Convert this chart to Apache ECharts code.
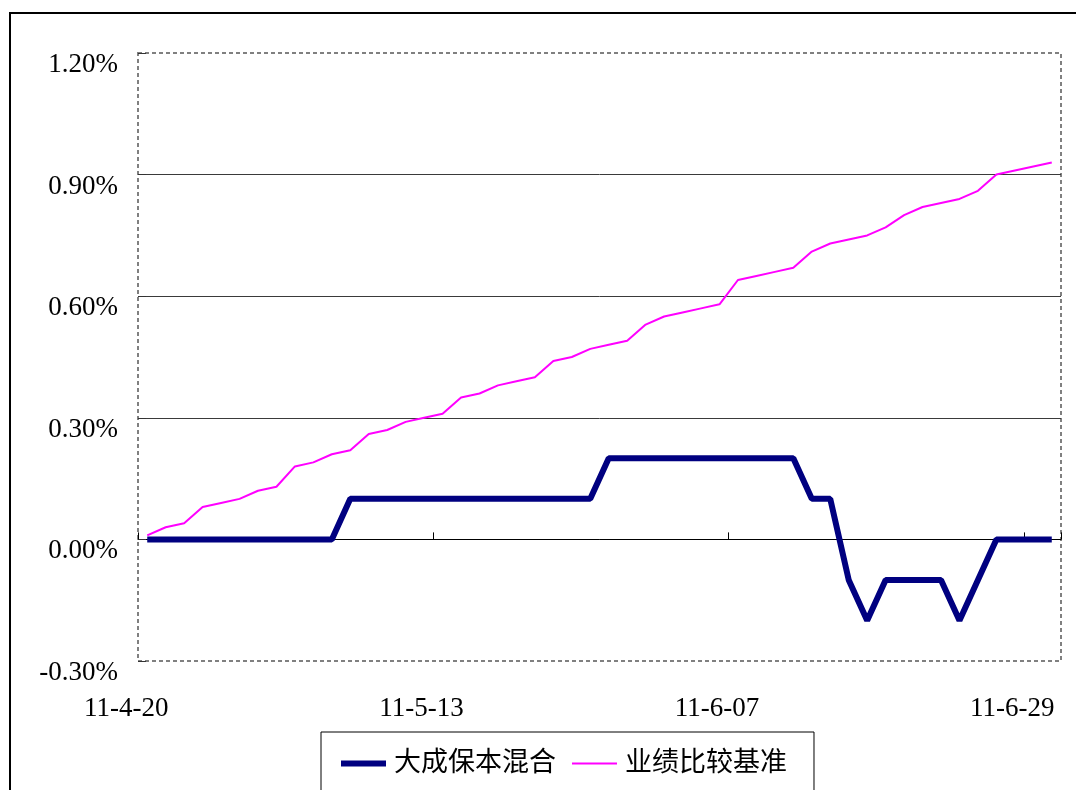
<!DOCTYPE html>
<html>
<head>
<meta charset="utf-8">
<title>大成保本混合</title>
<script src="https://cdn.jsdelivr.net/npm/echarts@6/dist/echarts.min.js"></script>
<style>
  html, body { margin: 0; padding: 0; background: #fff; }
  #chart { width: 1076px; height: 790px; }
</style>
</head>
<body>
<div id="chart"></div>
<script>
// trading days 2011-04-20 .. 2011-06-30
const dates = [
  '11-4-20', '11-4-21', '11-4-22', '11-4-25', '11-4-26', '11-4-27', '11-4-28', '11-4-29',
  '11-5-03', '11-5-04', '11-5-05', '11-5-06', '11-5-09', '11-5-10', '11-5-11', '11-5-12',
  '11-5-13', '11-5-16', '11-5-17', '11-5-18', '11-5-19', '11-5-20', '11-5-23', '11-5-24',
  '11-5-25', '11-5-26', '11-5-27', '11-5-30', '11-5-31', '11-6-01', '11-6-02', '11-6-03',
  '11-6-07', '11-6-08', '11-6-09', '11-6-10', '11-6-13', '11-6-14', '11-6-15', '11-6-16',
  '11-6-17', '11-6-20', '11-6-21', '11-6-22', '11-6-23', '11-6-24', '11-6-27', '11-6-28',
  '11-6-29', '11-6-30'
]

// values in %
const fundReturn = [
  0, 0, 0, 0, 0, 0, 0, 0, 0, 0,
  0, 0.1, 0.1, 0.1, 0.1, 0.1, 0.1, 0.1, 0.1, 0.1,
  0.1, 0.1, 0.1, 0.1, 0.1, 0.2, 0.2, 0.2, 0.2, 0.2,
  0.2, 0.2, 0.2, 0.2, 0.2, 0.2, 0.1, 0.1, -0.1, -0.2,
  -0.1, -0.1, -0.1, -0.1, -0.2, -0.1, 0, 0, 0, 0
]
const benchmark = [
  0.01, 0.03, 0.04, 0.08, 0.09, 0.10, 0.12, 0.13, 0.18, 0.19,
  0.21, 0.22, 0.26, 0.27, 0.29, 0.30, 0.31, 0.35, 0.36, 0.38,
  0.39, 0.40, 0.44, 0.45, 0.47, 0.48, 0.49, 0.53, 0.55, 0.56,
  0.57, 0.58, 0.64, 0.65, 0.66, 0.67, 0.71, 0.73, 0.74, 0.75,
  0.77, 0.80, 0.82, 0.83, 0.84, 0.86, 0.90, 0.91, 0.92, 0.93
]

const seriesNames = ['大成保本混合', '业绩比较基准']
const yMin = -0.3
const yMax = 1.2
const yStep = 0.3

const serif = '"Liberation Serif", "Noto Sans CJK SC", serif'

const chart = echarts.init(document.getElementById('chart'), null, { renderer: 'canvas' })

chart.setOption({
  animation: false,
  backgroundColor: '#fff',
  graphic: [{
    // outer frame, runs off the right/bottom edge
    type: 'rect',
    silent: true,
    shape: { x: 10, y: 13, width: 1200, height: 1000 },
    style: { fill: 'none', stroke: '#000', lineWidth: 2 }
  }],
  grid: {
    left: 138,
    right: 15,
    top: 53,
    bottom: 129,
    show: true,
    borderColor: '#808080',
    borderWidth: 2,
    borderType: [4, 3],
    outerBoundsMode: 'none'
  },
  legend: {
    data: [
      { name: seriesNames[0] },
      { name: seriesNames[1] }
    ],
    left: 321,
    top: 732,
    padding: [18, 27, 60, 17],
    borderColor: '#000',
    borderWidth: 1,
    itemWidth: 45,
    itemHeight: 27,
    itemGap: 15,
    lineStyle: { width: 'inherit' },
    itemStyle: { opacity: 0 },
    textStyle: {
      fontSize: 27,
      fontFamily: serif,
      color: '#000',
      padding: [0, 0, 0, 3]
    }
  },
  xAxis: [{
    type: 'category',
    position: 'bottom',
    data: dates,
    boundaryGap: true,
    axisLine: { show: false, onZero: false },
    axisTick: { show: false },
    axisLabel: {
      interval: 15,
      margin: 34,
      color: '#000',
      fontSize: 27,
      fontFamily: serif,
      padding: [0, 42, 0, 0]
    },
    splitLine: { show: false }
  }, {
    // zero line with inward ticks
    type: 'category',
    position: 'bottom',
    data: dates,
    boundaryGap: true,
    axisLine: { show: true, onZero: true, onZeroAxisIndex: 0, lineStyle: { color: '#000', width: 1 } },
    axisTick: { show: true, inside: true, length: 7, interval: 15, lineStyle: { color: '#000' } },
    axisLabel: { show: false },
    splitLine: { show: false }
  }],
  yAxis: {
    type: 'value',
    min: yMin,
    max: yMax,
    interval: yStep,
    axisLine: { show: false },
    axisTick: { show: true, inside: true, length: 8, lineStyle: { color: '#333' } },
    axisLabel: {
      margin: 20,
      color: '#000',
      fontSize: 27,
      fontFamily: serif,
      verticalAlign: 'top',
      lineHeight: 24,
      formatter: v => v.toFixed(2) + '%'
    },
    splitLine: {
      show: true,
      showMinLine: false,
      showMaxLine: false,
      lineStyle: { color: '#3a3a3a', width: 1 }
    }
  },
  series: [{
    name: seriesNames[0],
    type: 'line',
    data: fundReturn,
    symbol: 'none',
    z: 3,
    lineStyle: { color: '#000080', width: 6 },
    itemStyle: { color: '#000080' }
  }, {
    name: seriesNames[1],
    type: 'line',
    data: benchmark,
    symbol: 'none',
    z: 4,
    lineStyle: { color: '#ff00ff', width: 2 },
    itemStyle: { color: '#ff00ff' }
  }]
})
</script>
</body>
</html>
